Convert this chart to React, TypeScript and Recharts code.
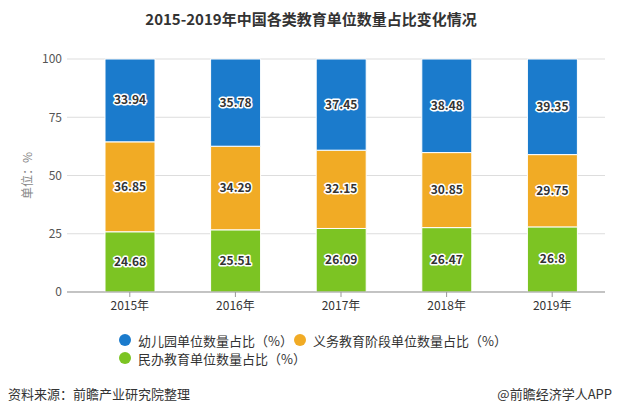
import React from 'react'
import { BarChart, Bar, XAxis, YAxis, CartesianGrid, LabelList } from 'recharts'

const years = ['2015年', '2016年', '2017年', '2018年', '2019年']
const kindergarten = [33.94, 35.78, 37.45, 38.48, 39.35]
const compulsory = [36.85, 34.29, 32.15, 30.85, 29.75]
const privateEdu = [24.68, 25.51, 26.09, 26.47, 26.8]
const yTicks = [0, 0.25, 0.5, 0.75, 1]

const series = [
  { key: 'privateEdu', name: '民办教育单位数量占比（%）', color: '#7cc423' },
  { key: 'compulsory', name: '义务教育阶段单位数量占比（%）', color: '#f1ab25' },
  { key: 'kindergarten', name: '幼儿园单位数量占比（%）', color: '#1b7bcc' },
]

const data = years.map((year, i) => ({
  year,
  kindergarten: kindergarten[i],
  compulsory: compulsory[i],
  privateEdu: privateEdu[i],
}))

const font = '"Noto Sans CJK SC", "Noto Sans", sans-serif'

// dark number with white halo, like the original
const HaloLabel = (props: any) => {
  const { x, y, width, height, value } = props
  return (
    <text
      x={x + width / 2}
      y={y + height / 2}
      dy={4}
      textAnchor="middle"
      fontSize={12}
      fontWeight="bold"
      fontFamily={font}
      fill="#333"
      stroke="#fff"
      strokeWidth={3}
      paintOrder="stroke"
      strokeLinejoin="round"
    >
      {value}
    </text>
  )
}

const legendRows = [[series[2], series[1]], [series[0]]]

const App = () => {
  return (
    <div style={{ position: 'absolute', left: 0, top: 0, width: 622, height: 413, background: '#fff', fontFamily: font }}>
      <div style={{ position: 'absolute', top: 8, width: 622, textAlign: 'center', fontSize: 15, fontWeight: 'bold', color: '#333' }}>
        2015-2019年中国各类教育单位数量占比变化情况
      </div>
      <BarChart
        width={622}
        height={413}
        data={data}
        stackOffset="expand"
        margin={{ top: 59, right: 17, left: 0, bottom: 91 }}
      >
        <CartesianGrid vertical={false} stroke="#ddd" />
        <XAxis
          dataKey="year"
          height={30}
          padding={{ left: 10, right: 0 }}
          stroke="#999"
          tickSize={5}
          tickMargin={4}
          tick={{ fill: '#333', fontSize: 12, fontFamily: font }}
        />
        <YAxis
          width={67}
          ticks={yTicks}
          domain={[0, 1]}
          axisLine={false}
          tickLine={false}
          tickSize={0}
          tickMargin={5}
          tickFormatter={(v: number) => String(Math.round(v * 100))}
          tick={{ fill: '#555', fontSize: 12, fontFamily: font }}
          label={{ value: '单位：%', angle: -90, position: 'center', dx: -6, fill: '#888', fontSize: 12, fontFamily: font }}
        />
        {series.map((s) => (
          <Bar key={s.key} dataKey={s.key} name={s.name} stackId="a" fill={s.color} stroke="#fff" strokeWidth={1} barSize={50} isAnimationActive={false}>
            <LabelList dataKey={s.key} content={<HaloLabel />} />
          </Bar>
        ))}
      </BarChart>
      <div style={{ position: 'absolute', left: 119, top: 331, fontSize: 13, color: '#333' }}>
        {legendRows.map((row, ri) => (
          <div key={ri} style={{ display: 'flex', height: 18 }}>
            {row.map((s, ci) => (
              <div key={s.key} style={{ display: 'flex', alignItems: 'center', width: ci === 0 ? 175 : 'auto', flexShrink: 0 }}>
                <span style={{ width: 12, height: 12, flexShrink: 0, borderRadius: 6, background: s.color, marginRight: 7, display: 'inline-block' }} />
                <span style={{ whiteSpace: 'nowrap' }}>{s.name}</span>
              </div>
            ))}
          </div>
        ))}
      </div>
      <div style={{ position: 'absolute', left: 8, top: 384, fontSize: 13, color: '#333' }}>资料来源：前瞻产业研究院整理</div>
      <div style={{ position: 'absolute', right: 10, top: 384, fontSize: 13, color: '#333' }}>@前瞻经济学人APP</div>
    </div>
  )
}

export default App
